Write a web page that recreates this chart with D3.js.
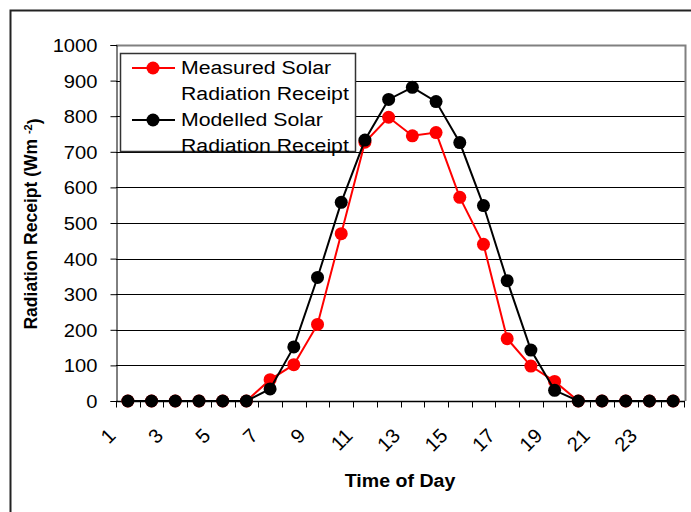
<!DOCTYPE html>
<html>
<head>
<meta charset="utf-8">
<script src="https://cdn.jsdelivr.net/npm/d3@7"></script>
<style>
    body { margin: 0; background: #fff; }
    text { font-family: Arial, "Liberation Sans", sans-serif; fill: #000; }
</style>
</head>
<body>
<div id="radiation_chart"></div>
<script>

// Hours of the day (category axis)
var hours = [1, 2, 3, 4, 5, 6, 7, 8, 9, 10, 11, 12, 13, 14, 15, 16, 17, 18, 19, 20, 21, 22, 23, 24];

// Only odd hours get a label
var hourLabels = [1, 3, 5, 7, 9, 11, 13, 15, 17, 19, 21, 23];

// Radiation receipt (W m-2)
var measured = [0, 0, 0, 0, 0, 0, 60, 102, 215, 470, 727, 797, 745, 754, 572, 440, 175, 98, 55, 0, 0, 0, 0, 0];
var modelled = [0, 0, 0, 0, 0, 0, 34, 152, 347, 558, 733, 847, 881, 841, 726, 549, 338, 143, 30, 0, 0, 0, 0, 0];

var yTicks = [0, 100, 200, 300, 400, 500, 600, 700, 800, 900, 1000];

var seriesNames = ["Measured Solar", "Modelled Solar"];
var seriesColours = ["#ff0000", "#000000"];

var W = 691, H = 512;
var plot = {left: 116, right: 685, top: 45, bottom: 401};

// the original picture is a bit wider than tall, so text is stretched sideways
var stretch = 1.12;

var svg = d3.select("#radiation_chart")
    .append("svg")
    .attr("width", W)
    .attr("height", H);

// Outer chart border (runs off the picture on the right and bottom)
svg.append("rect")
    .attr("x", 10.5)
    .attr("y", 10.5)
    .attr("width", W + 20)
    .attr("height", H + 20)
    .attr("fill", "none")
    .attr("stroke", "#222")
    .attr("stroke-width", 2);

/**
 * SCALES
 */
var xScale = d3.scaleBand()
    .domain(hours)
    .range([plot.left, plot.right])
    .padding(0);

var yScale = d3.scaleLinear()
    .domain([0, 1000])
    .range([plot.bottom, plot.top]);

function xMid(h) { return xScale(h) + xScale.bandwidth() / 2; }

/**
 * GRIDLINES + PLOT BORDER
 */
svg.append("g")
    .selectAll("line")
    .data(yTicks.filter(function (d) { return d > 0 && d < 1000; }))
    .enter()
    .append("line")
    .attr("x1", plot.left)
    .attr("x2", plot.right)
    .attr("y1", function (d) { return Math.round(yScale(d)) + 0.5; })
    .attr("y2", function (d) { return Math.round(yScale(d)) + 0.5; })
    .attr("stroke", "#000")
    .attr("stroke-width", 1);

// grey top and right edge of the plot area
svg.append("path")
    .attr("d", "M" + plot.left + "," + (yScale(1000) + 0.5) + "H" + (plot.right + 0.5) + "V" + plot.bottom)
    .attr("fill", "none")
    .attr("stroke", "#808080")
    .attr("stroke-width", 2);

/**
 * Y-AXIS
 */
var yAxis = svg.append("g")
    .attr("transform", "translate(" + (plot.left + 0.5) + ",0)")
    .call(d3.axisLeft(yScale).tickValues(yTicks).tickFormat(d3.format("d")).tickSize(6).tickPadding(13));

yAxis.select(".domain").attr("stroke", "#000");
yAxis.selectAll("line").attr("stroke", "#000");
yAxis.selectAll(".tick text")
    .style("font-size", "18px")
    .attr("x", null)
    .attr("dy", null)
    .attr("transform", "translate(-19,0) scale(" + stretch + ",1) translate(0,6.5)");

// y-axis title with superscript
var yTitle = svg.append("text")
    .attr("transform", "translate(37," + 224 + ")rotate(-90)")
    .attr("text-anchor", "middle")
    .style("font-size", "17.5px")
    .style("font-weight", "bold");
yTitle.append("tspan").text("Radiation Receipt (Wm ");
yTitle.append("tspan").attr("dy", "-0.45em").style("font-size", "11px").text("-2");
yTitle.append("tspan").attr("dy", "0.45em").text(")");

/**
 * X-AXIS (category, ticks between hours)
 */
var xAxis = svg.append("g")
    .attr("transform", "translate(0," + (plot.bottom + 0.5) + ")");

xAxis.append("line")
    .attr("x1", plot.left)
    .attr("x2", plot.right)
    .attr("stroke", "#000")
    .attr("stroke-width", 1.5);

xAxis.selectAll(".tick")
    .data(hours.concat([25]))
    .enter()
    .append("line")
    .attr("class", "tick")
    .attr("x1", function (d) { return d <= 24 ? Math.round(xScale(d)) + 0.5 : plot.right - 0.5; })
    .attr("x2", function (d) { return d <= 24 ? Math.round(xScale(d)) + 0.5 : plot.right - 0.5; })
    .attr("y1", 0)
    .attr("y2", 6)
    .attr("stroke", "#000");

// rotated hour labels
svg.append("g")
    .selectAll("text")
    .data(hourLabels)
    .enter()
    .append("text")
    .attr("transform", function (d) {
        return "translate(" + (xMid(d) - 11) + ",437)rotate(-45)";
    })
    .attr("text-anchor", "end")
    .style("font-size", "20px")
    .text(function (d) { return d; });

svg.append("text")
    .attr("transform", "translate(400,487) scale(" + stretch + ",1)")
    .attr("text-anchor", "middle")
    .style("font-size", "17.5px")
    .style("font-weight", "bold")
    .text("Time of Day");

/**
 * SERIES: measured first, modelled drawn on top
 */
var seriesData = [measured, modelled];

var line = d3.line()
    .x(function (d, i) { return xMid(hours[i]); })
    .y(function (d) { return yScale(d); });

seriesData.forEach(function (values, k) {
    svg.append("path")
        .datum(values)
        .attr("fill", "none")
        .attr("stroke", seriesColours[k])
        .attr("stroke-width", 2)
        .attr("d", line);

    svg.append("g")
        .selectAll("circle")
        .data(values)
        .enter()
        .append("circle")
        .attr("cx", function (d, i) { return xMid(hours[i]); })
        .attr("cy", function (d) { return yScale(d); })
        .attr("r", 6.5)
        .attr("fill", seriesColours[k]);
});

/**
 * LEGEND
 */
var legend = svg.append("g");

legend.append("rect")
    .attr("x", 120.5)
    .attr("y", 53.5)
    .attr("width", 235)
    .attr("height", 98)
    .attr("fill", "#fff")
    .attr("stroke", "#333")
    .attr("stroke-width", 1.5);

seriesNames.forEach(function (name, k) {
    var ly = 68 + k * 52;
    legend.append("line")
        .attr("x1", 132)
        .attr("x2", 175)
        .attr("y1", ly)
        .attr("y2", ly)
        .attr("stroke", seriesColours[k])
        .attr("stroke-width", 2);
    legend.append("circle")
        .attr("cx", 153)
        .attr("cy", ly)
        .attr("r", 6.5)
        .attr("fill", seriesColours[k]);
    legend.append("text")
        .attr("transform", "translate(181," + (ly + 6) + ") scale(" + stretch + ",1)")
        .style("font-size", "19px")
        .text(name);
    legend.append("text")
        .attr("transform", "translate(181," + (ly + 32) + ") scale(" + stretch + ",1)")
        .style("font-size", "19px")
        .text("Radiation Receipt");
});

</script>
</body>
</html>
